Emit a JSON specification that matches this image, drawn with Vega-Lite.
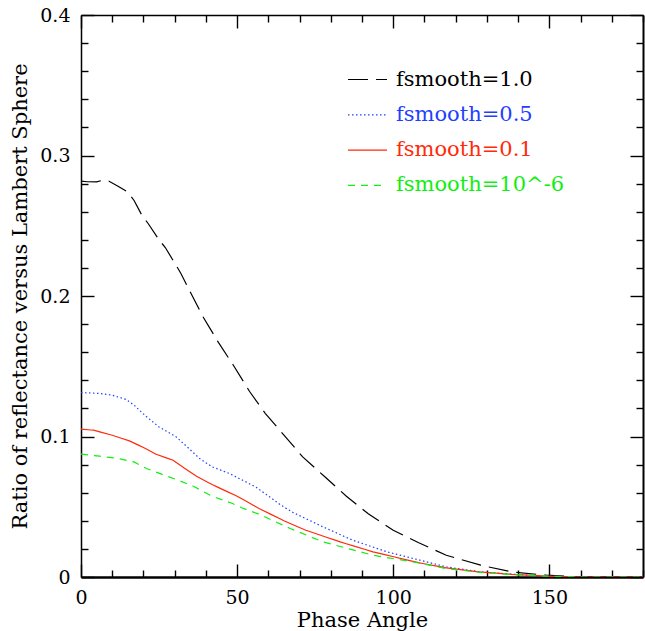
{
  "$schema": "https://vega.github.io/schema/vega-lite/v6.json",
  "width": 562,
  "height": 562,
  "autosize": {"type": "none"},
  "padding": {"left": 81, "top": 15, "right": 2, "bottom": 54},
  "background": "white",
  "config": {
    "view": {"stroke": null},
    "font": "DejaVu Serif",
    "axis": {
      "grid": false,
      "zindex": 1,
      "labelFont": "DejaVu Serif",
      "labelFontSize": 19,
      "labelColor": "black",
      "titleFont": "DejaVu Serif",
      "titleFontSize": 21,
      "titleFontWeight": "normal",
      "titleColor": "black",
      "domainColor": "black",
      "tickColor": "black",
      "tickWidth": 1.4,
      "labelOverlap": false,
      "labelFlush": false
    }
  },
  "datasets": {
    "curves": [
      {"series": "fsmooth=1.0", "angle": 0, "ratio": 0.2817},
      {"series": "fsmooth=1.0", "angle": 2, "ratio": 0.2813},
      {"series": "fsmooth=1.0", "angle": 5, "ratio": 0.2812},
      {"series": "fsmooth=1.0", "angle": 7, "ratio": 0.2824},
      {"series": "fsmooth=1.0", "angle": 9, "ratio": 0.2817},
      {"series": "fsmooth=1.0", "angle": 12, "ratio": 0.278},
      {"series": "fsmooth=1.0", "angle": 15, "ratio": 0.274},
      {"series": "fsmooth=1.0", "angle": 17, "ratio": 0.268},
      {"series": "fsmooth=1.0", "angle": 19.5, "ratio": 0.2575},
      {"series": "fsmooth=1.0", "angle": 21.5, "ratio": 0.2516},
      {"series": "fsmooth=1.0", "angle": 25, "ratio": 0.24},
      {"series": "fsmooth=1.0", "angle": 27, "ratio": 0.2345},
      {"series": "fsmooth=1.0", "angle": 30, "ratio": 0.2235},
      {"series": "fsmooth=1.0", "angle": 32, "ratio": 0.216},
      {"series": "fsmooth=1.0", "angle": 35, "ratio": 0.2029},
      {"series": "fsmooth=1.0", "angle": 39, "ratio": 0.1855},
      {"series": "fsmooth=1.0", "angle": 44, "ratio": 0.167},
      {"series": "fsmooth=1.0", "angle": 49, "ratio": 0.15},
      {"series": "fsmooth=1.0", "angle": 54, "ratio": 0.132},
      {"series": "fsmooth=1.0", "angle": 59, "ratio": 0.1165},
      {"series": "fsmooth=1.0", "angle": 65, "ratio": 0.101},
      {"series": "fsmooth=1.0", "angle": 71, "ratio": 0.0855},
      {"series": "fsmooth=1.0", "angle": 78, "ratio": 0.0715},
      {"series": "fsmooth=1.0", "angle": 85, "ratio": 0.0575},
      {"series": "fsmooth=1.0", "angle": 92, "ratio": 0.045},
      {"series": "fsmooth=1.0", "angle": 100, "ratio": 0.0333},
      {"series": "fsmooth=1.0", "angle": 108, "ratio": 0.0245},
      {"series": "fsmooth=1.0", "angle": 117, "ratio": 0.0155},
      {"series": "fsmooth=1.0", "angle": 128, "ratio": 0.0084},
      {"series": "fsmooth=1.0", "angle": 138, "ratio": 0.0036},
      {"series": "fsmooth=1.0", "angle": 149, "ratio": 0.0013},
      {"series": "fsmooth=1.0", "angle": 158, "ratio": 0.0002},
      {"series": "fsmooth=1.0", "angle": 165, "ratio": 0},
      {"series": "fsmooth=1.0", "angle": 180, "ratio": 0},
      {"series": "fsmooth=0.5", "angle": 0, "ratio": 0.1313},
      {"series": "fsmooth=0.5", "angle": 6, "ratio": 0.1306},
      {"series": "fsmooth=0.5", "angle": 10, "ratio": 0.1294},
      {"series": "fsmooth=0.5", "angle": 14.5, "ratio": 0.1263},
      {"series": "fsmooth=0.5", "angle": 17, "ratio": 0.1223},
      {"series": "fsmooth=0.5", "angle": 21, "ratio": 0.114},
      {"series": "fsmooth=0.5", "angle": 25, "ratio": 0.1068},
      {"series": "fsmooth=0.5", "angle": 30.5, "ratio": 0.0997},
      {"series": "fsmooth=0.5", "angle": 34, "ratio": 0.0926},
      {"series": "fsmooth=0.5", "angle": 38, "ratio": 0.0843},
      {"series": "fsmooth=0.5", "angle": 42, "ratio": 0.0784},
      {"series": "fsmooth=0.5", "angle": 47.5, "ratio": 0.0737},
      {"series": "fsmooth=0.5", "angle": 52, "ratio": 0.0686},
      {"series": "fsmooth=0.5", "angle": 56, "ratio": 0.064},
      {"series": "fsmooth=0.5", "angle": 60, "ratio": 0.0577},
      {"series": "fsmooth=0.5", "angle": 64, "ratio": 0.0512},
      {"series": "fsmooth=0.5", "angle": 68, "ratio": 0.0458},
      {"series": "fsmooth=0.5", "angle": 77.5, "ratio": 0.0357},
      {"series": "fsmooth=0.5", "angle": 87, "ratio": 0.0262},
      {"series": "fsmooth=0.5", "angle": 98, "ratio": 0.0179},
      {"series": "fsmooth=0.5", "angle": 108.5, "ratio": 0.012},
      {"series": "fsmooth=0.5", "angle": 117, "ratio": 0.0072},
      {"series": "fsmooth=0.5", "angle": 128, "ratio": 0.0036},
      {"series": "fsmooth=0.5", "angle": 138, "ratio": 0.002},
      {"series": "fsmooth=0.5", "angle": 149, "ratio": 0.0007},
      {"series": "fsmooth=0.5", "angle": 160, "ratio": 0},
      {"series": "fsmooth=0.5", "angle": 180, "ratio": 0},
      {"series": "fsmooth=0.1", "angle": 0, "ratio": 0.1052},
      {"series": "fsmooth=0.1", "angle": 4, "ratio": 0.1045},
      {"series": "fsmooth=0.1", "angle": 10, "ratio": 0.1009},
      {"series": "fsmooth=0.1", "angle": 15.5, "ratio": 0.0969},
      {"series": "fsmooth=0.1", "angle": 20, "ratio": 0.0922},
      {"series": "fsmooth=0.1", "angle": 24, "ratio": 0.0874},
      {"series": "fsmooth=0.1", "angle": 29.5, "ratio": 0.0831},
      {"series": "fsmooth=0.1", "angle": 32.5, "ratio": 0.0784},
      {"series": "fsmooth=0.1", "angle": 37, "ratio": 0.0717},
      {"series": "fsmooth=0.1", "angle": 42, "ratio": 0.0658},
      {"series": "fsmooth=0.1", "angle": 50, "ratio": 0.0575},
      {"series": "fsmooth=0.1", "angle": 57, "ratio": 0.0488},
      {"series": "fsmooth=0.1", "angle": 65, "ratio": 0.04},
      {"series": "fsmooth=0.1", "angle": 72, "ratio": 0.0333},
      {"series": "fsmooth=0.1", "angle": 83, "ratio": 0.025},
      {"series": "fsmooth=0.1", "angle": 93.5, "ratio": 0.0179},
      {"series": "fsmooth=0.1", "angle": 108.5, "ratio": 0.01},
      {"series": "fsmooth=0.1", "angle": 117, "ratio": 0.0065},
      {"series": "fsmooth=0.1", "angle": 128, "ratio": 0.0035},
      {"series": "fsmooth=0.1", "angle": 138, "ratio": 0.0018},
      {"series": "fsmooth=0.1", "angle": 149, "ratio": 0.0006},
      {"series": "fsmooth=0.1", "angle": 160, "ratio": 0},
      {"series": "fsmooth=0.1", "angle": 180, "ratio": 0},
      {"series": "fsmooth=10^-6", "angle": 0, "ratio": 0.0874},
      {"series": "fsmooth=10^-6", "angle": 6, "ratio": 0.086},
      {"series": "fsmooth=10^-6", "angle": 12, "ratio": 0.0843},
      {"series": "fsmooth=10^-6", "angle": 17, "ratio": 0.0819},
      {"series": "fsmooth=10^-6", "angle": 21, "ratio": 0.0772},
      {"series": "fsmooth=10^-6", "angle": 26, "ratio": 0.073},
      {"series": "fsmooth=10^-6", "angle": 30.5, "ratio": 0.0694},
      {"series": "fsmooth=10^-6", "angle": 36, "ratio": 0.0646},
      {"series": "fsmooth=10^-6", "angle": 42, "ratio": 0.0575},
      {"series": "fsmooth=10^-6", "angle": 48.5, "ratio": 0.0523},
      {"series": "fsmooth=10^-6", "angle": 52, "ratio": 0.0488},
      {"series": "fsmooth=10^-6", "angle": 57, "ratio": 0.0447},
      {"series": "fsmooth=10^-6", "angle": 67, "ratio": 0.0345},
      {"series": "fsmooth=10^-6", "angle": 77.5, "ratio": 0.025},
      {"series": "fsmooth=10^-6", "angle": 93.5, "ratio": 0.0155},
      {"series": "fsmooth=10^-6", "angle": 107.5, "ratio": 0.0103},
      {"series": "fsmooth=10^-6", "angle": 117, "ratio": 0.006},
      {"series": "fsmooth=10^-6", "angle": 128, "ratio": 0.0033},
      {"series": "fsmooth=10^-6", "angle": 138, "ratio": 0.0017},
      {"series": "fsmooth=10^-6", "angle": 149, "ratio": 0.0006},
      {"series": "fsmooth=10^-6", "angle": 160, "ratio": 0},
      {"series": "fsmooth=10^-6", "angle": 180, "ratio": 0}
    ]
  },
  "data": {"name": "curves"},
  "layer": [
    {
      "mark": {"type": "line", "strokeWidth": 1.2, "clip": true},
      "encoding": {
        "x": {
          "field": "angle", "type": "quantitative",
          "scale": {"domain": [0, 180], "nice": false, "zero": false},
          "axis": {
            "orient": "bottom",
            "title": "Phase Angle",
            "values": [0, 10, 20, 30, 40, 50, 60, 70, 80, 90, 100, 110, 120, 130, 140, 150, 160, 170, 180],
            "labelExpr": "datum.value % 50 === 0 ? datum.label : ''",
            "tickSize": {"condition": {"test": "datum.value % 50 === 0", "value": -13}, "value": -7},
            "labelPadding": 24,
            "titleBaseline": "alphabetic",
            "titleY": 49,
            "domainWidth": 2.5
          }
        },
        "y": {
          "field": "ratio", "type": "quantitative",
          "scale": {"domain": [0, 0.4], "nice": false},
          "axis": {
            "orient": "left",
            "title": "Ratio of reflectance versus Lambert Sphere",
            "values": [0, 0.02, 0.04, 0.06, 0.08, 0.1, 0.12, 0.14, 0.16, 0.18, 0.2, 0.22, 0.24, 0.26, 0.28, 0.3, 0.32, 0.34, 0.36, 0.38, 0.4],
            "labelExpr": "abs(datum.value * 10 - round(datum.value * 10)) < 0.000001 ? (datum.value < 0.001 ? '0' : format(datum.value, '.1f')) : ''",
            "tickSize": {"condition": {"test": "abs(datum.value * 10 - round(datum.value * 10)) < 0.000001", "value": -13}, "value": -7},
            "labelPadding": 24,
            "titlePadding": 9,
            "domainWidth": 1.5
          }
        },
        "color": {
          "field": "series", "type": "nominal",
          "scale": {
            "domain": ["fsmooth=1.0", "fsmooth=0.5", "fsmooth=0.1", "fsmooth=10^-6"],
            "range": ["#000000", "#1f3fff", "#ff2a0a", "#11ee11"]
          },
          "legend": {
            "orient": "none",
            "legendX": 266,
            "legendY": 48,
            "title": null,
            "padding": 0,
            "symbolType": "stroke",
            "symbolSize": 1521,
            "symbolStrokeWidth": 1.2,
            "labelFont": "DejaVu Serif",
            "labelFontSize": 21,
            "labelOffset": 8,
            "labelLimit": 0,
            "clipHeight": 33,
            "rowPadding": 2.3,
            "encode": {"labels": {"update": {"fill": {"scale": "color", "field": "value"}}}}
          }
        },
        "strokeDash": {
          "field": "series", "type": "nominal",
          "scale": {
            "domain": ["fsmooth=1.0", "fsmooth=0.5", "fsmooth=0.1", "fsmooth=10^-6"],
            "range": [[20, 8], [1.5, 2.5], [10, 0], [7, 6]]
          },
          "legend": {
            "orient": "none",
            "legendX": 266,
            "legendY": 48,
            "title": null,
            "padding": 0,
            "symbolType": "stroke",
            "symbolSize": 1521,
            "symbolStrokeWidth": 1.2,
            "labelFont": "DejaVu Serif",
            "labelFontSize": 21,
            "labelOffset": 8,
            "labelLimit": 0,
            "clipHeight": 33,
            "rowPadding": 2.3,
            "encode": {"labels": {"update": {"fill": {"scale": "color", "field": "value"}}}}
          }
        }
      }
    },
    {
      "mark": {"type": "line", "opacity": 0},
      "encoding": {
        "detail": {"field": "series"},
        "x": {
          "field": "angle", "type": "quantitative",
          "axis": {
            "orient": "top",
            "title": null,
            "labels": false,
            "values": [0, 10, 20, 30, 40, 50, 60, 70, 80, 90, 100, 110, 120, 130, 140, 150, 160, 170, 180],
            "tickSize": {"condition": {"test": "datum.value % 50 === 0", "value": -13}, "value": -7},
            "domainWidth": 1.5
          }
        },
        "y": {
          "field": "ratio", "type": "quantitative",
          "axis": {
            "orient": "right",
            "title": null,
            "labels": false,
            "values": [0, 0.02, 0.04, 0.06, 0.08, 0.1, 0.12, 0.14, 0.16, 0.18, 0.2, 0.22, 0.24, 0.26, 0.28, 0.3, 0.32, 0.34, 0.36, 0.38, 0.4],
            "tickSize": {"condition": {"test": "abs(datum.value * 10 - round(datum.value * 10)) < 0.000001", "value": -13}, "value": -7},
            "domainWidth": 2
          }
        }
      }
    }
  ],
  "resolve": {"axis": {"x": "independent", "y": "independent"}}
}
